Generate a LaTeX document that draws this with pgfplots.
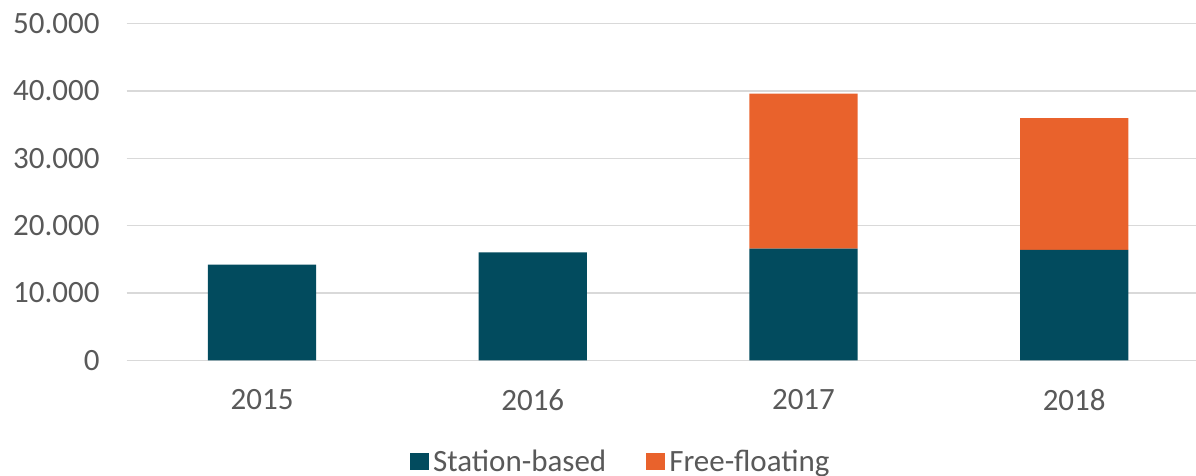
\documentclass[border=0pt]{standalone}
\usepackage{pgfplots}
\pgfplotsset{compat=1.18}
\usepackage{fontspec}
\setmainfont{Carlito}
\definecolor{station}{HTML}{024B5E}
\definecolor{free}{HTML}{E9622C}
\definecolor{txt}{HTML}{595959}
\definecolor{gridc}{HTML}{D9D9D9}

\begin{document}
\begin{tikzpicture}
\begin{axis}[
  at={(63.35pt,-180.15pt)}, anchor=south west,
  scale only axis,
  width=534.65pt, height=168.3pt,
  ybar stacked, bar width=0.4,
  xmin=-0.5, xmax=3.45,
  ymin=0, ymax=50000,
  xtick={0,1,2,3},
  xticklabels={2015,2016,2017,2018},
  ytick={0,10000,20000,30000,40000,50000},
  scaled y ticks=false,
  /pgf/number format/.cd, 1000 sep={.}, assume math mode=true,
  /pgfplots/.cd,
  axis line style={draw=none},
  major tick length=0pt,
  ymajorgrids, xmajorgrids=false,
  grid style={draw=gridc, line width=0.75pt},
  tick label style={font=\fontsize{15.5}{18}\selectfont, text=txt},
  yticklabel style={anchor=east, xshift=-10pt},
  xticklabel style={anchor=north, yshift=-11pt},
  legend style={draw=none, fill=none, at={(0.463,-0.302)}, anchor=center,
    font=\fontsize{15.5}{18}\selectfont, text=txt,
    legend columns=2, /tikz/every even column/.append style={column sep=18pt}},
  legend image code/.code={\fill[#1] (0pt,-4pt) rectangle (9.5pt,4.5pt);},
]
\addplot[fill=station, draw=none] coordinates {(0,14200) (1,16050) (2,16580) (3,16390)};
\addlegendentry{Station-based}
\addplot[fill=free, draw=none] coordinates {(0,0) (1,0) (2,23030) (3,19570)};
\addlegendentry{Free-floating}
\end{axis}
\pgfresetboundingbox
\useasboundingbox (0,0) rectangle (598pt,-238pt);
\end{tikzpicture}
\end{document}
